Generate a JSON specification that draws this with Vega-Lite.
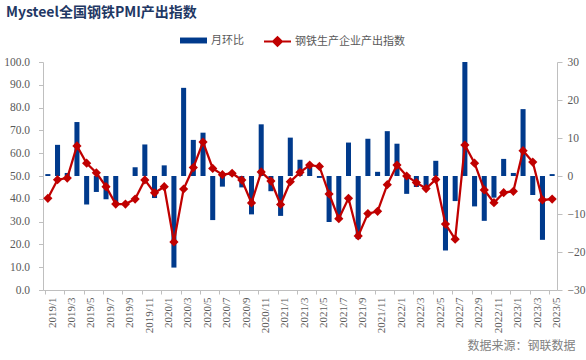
{
  "$schema": "https://vega.github.io/schema/vega-lite/v6.json",
  "width": 514,
  "height": 228,
  "autosize": {"type": "none"},
  "padding": {"left": 43, "top": 62, "right": 29, "bottom": 70},
  "background": "white",
  "config": {"view": {"stroke": null}, "font": "Noto Sans CJK SC"},
  "title": {
    "text": "Mysteel全国钢铁PMI产出指数",
    "anchor": "start",
    "frame": "group",
    "dx": -37,
    "offset": 7,
    "fontSize": 14,
    "fontWeight": "bold",
    "color": "#1F3864",
    "font": "Noto Sans CJK SC"
  },
  "data": {
    "values": [
      {"month": "2019/1", "idx": 40.2, "mom": 0.5},
      {"month": "2019/2", "idx": 48.4, "mom": 8.2},
      {"month": "2019/3", "idx": 49.1, "mom": 0.8},
      {"month": "2019/4", "idx": 63.2, "mom": 14.2},
      {"month": "2019/5", "idx": 55.6, "mom": -7.5},
      {"month": "2019/6", "idx": 51.4, "mom": -4.2},
      {"month": "2019/7", "idx": 45.3, "mom": -6.1},
      {"month": "2019/8", "idx": 37.7, "mom": -7.5},
      {"month": "2019/9", "idx": 37.7, "mom": 0.0},
      {"month": "2019/10", "idx": 39.9, "mom": 2.3},
      {"month": "2019/11", "idx": 48.3, "mom": 8.3},
      {"month": "2019/12", "idx": 42.6, "mom": -5.8},
      {"month": "2020/1", "idx": 45.3, "mom": 2.8},
      {"month": "2020/2", "idx": 21.1, "mom": -24.1},
      {"month": "2020/3", "idx": 44.3, "mom": 23.2},
      {"month": "2020/4", "idx": 53.7, "mom": 9.5},
      {"month": "2020/5", "idx": 64.9, "mom": 11.4},
      {"month": "2020/6", "idx": 53.3, "mom": -11.6},
      {"month": "2020/7", "idx": 50.6, "mom": -2.8},
      {"month": "2020/8", "idx": 51.2, "mom": 0.5},
      {"month": "2020/9", "idx": 48.2, "mom": -3.0},
      {"month": "2020/10", "idx": 38.2, "mom": -10.1},
      {"month": "2020/11", "idx": 51.8, "mom": 13.6},
      {"month": "2020/12", "idx": 47.8, "mom": -4.0},
      {"month": "2021/1", "idx": 37.5, "mom": -10.5},
      {"month": "2021/2", "idx": 47.5, "mom": 10.1},
      {"month": "2021/3", "idx": 51.6, "mom": 4.3},
      {"month": "2021/4", "idx": 54.8, "mom": 3.1},
      {"month": "2021/5", "idx": 54.2, "mom": -0.5},
      {"month": "2021/6", "idx": 42.1, "mom": -12.1},
      {"month": "2021/7", "idx": 31.3, "mom": -10.8},
      {"month": "2021/8", "idx": 40.2, "mom": 8.8},
      {"month": "2021/9", "idx": 23.7, "mom": -16.6},
      {"month": "2021/10", "idx": 33.5, "mom": 9.8},
      {"month": "2021/11", "idx": 34.5, "mom": 1.1},
      {"month": "2021/12", "idx": 46.2, "mom": 11.8},
      {"month": "2022/1", "idx": 54.8, "mom": 8.5},
      {"month": "2022/2", "idx": 50.0, "mom": -4.7},
      {"month": "2022/3", "idx": 47.1, "mom": -2.9},
      {"month": "2022/4", "idx": 44.5, "mom": -2.7},
      {"month": "2022/5", "idx": 48.5, "mom": 4.0},
      {"month": "2022/6", "idx": 28.9, "mom": -19.6},
      {"month": "2022/7", "idx": 22.3, "mom": -6.6},
      {"month": "2022/8", "idx": 63.6, "mom": 41.3},
      {"month": "2022/9", "idx": 55.6, "mom": -8.0},
      {"month": "2022/10", "idx": 43.9, "mom": -11.8},
      {"month": "2022/11", "idx": 38.3, "mom": -5.7},
      {"month": "2022/12", "idx": 42.7, "mom": 4.5},
      {"month": "2023/1", "idx": 43.3, "mom": 0.8},
      {"month": "2023/2", "idx": 61.1, "mom": 17.6},
      {"month": "2023/3", "idx": 56.1, "mom": -5.0},
      {"month": "2023/4", "idx": 39.5, "mom": -16.8},
      {"month": "2023/5", "idx": 39.9, "mom": 0.5}
    ]
  },
  "encoding": {
    "x": {
      "field": "month",
      "type": "ordinal",
      "sort": null,
      "scale": {"paddingInner": 0.48, "paddingOuter": 0.24},
      "axis": {
        "title": "数据来源：钢联数据",
        "values": ["2019/1","2019/3","2019/5","2019/7","2019/9","2019/11","2020/1","2020/3","2020/5","2020/7","2020/9","2020/11","2021/1","2021/3","2021/5","2021/7","2021/9","2021/11","2022/1","2022/3","2022/5","2022/7","2022/9","2022/11","2023/1","2023/3","2023/5"],
        "labelAngle": 270,
        "labelFont": "Liberation Serif",
        "labelFontSize": 11,
        "labelColor": "#595959",
        "domainColor": "#BFBFBF",
        "tickColor": "#BFBFBF",
        "tickSize": 4,
        "bandPosition": 0,
        "labelOffset": 4.85,
        "labelPadding": 3,
        "grid": false,
        "titleX": 532,
        "titleY": 55,
        "titleAlign": "right",
        "titleBaseline": "middle",
        "titleAngle": 0,
        "titleFontSize": 12,
        "titleFontWeight": "normal",
        "titleColor": "#7F7F7F",
        "titleFont": "Noto Sans CJK SC"
      }
    }
  },
  "layer": [
    {
      "mark": {"type": "bar", "clip": true, "color": "#003A8C"},
      "encoding": {
        "y": {
          "field": "mom",
          "type": "quantitative",
          "scale": {"domain": [-30, 30], "nice": false},
          "axis": {
            "orient": "right",
            "title": null,
            "values": [-30, -20, -10, 0, 10, 20, 30],
            "format": "d",
            "labelFont": "Liberation Serif",
            "labelFontSize": 11.5,
            "labelColor": "#595959",
            "domainColor": "#BFBFBF",
            "tickColor": "#BFBFBF",
            "tickSize": 5,
            "labelPadding": 5,
            "grid": false
          }
        },
        "color": {
          "datum": "月环比",
          "type": "nominal",
          "scale": {"range": ["#003A8C"]},
          "legend": {
            "orient": "none",
            "legendX": 137,
            "legendY": -35,
            "title": null,
            "padding": 0,
            "symbolType": "M-1,-0.22H1V0.22H-1Z",
            "symbolSize": 729,
            "symbolStrokeWidth": 0,
            "labelFont": "Noto Sans CJK SC",
            "labelFontSize": 11,
            "labelColor": "#595959",
            "labelOffset": 4
          }
        }
      }
    },
    {
      "encoding": {
        "y": {
          "field": "idx",
          "type": "quantitative",
          "scale": {"domain": [0, 100], "nice": false},
          "axis": {
            "orient": "left",
            "title": null,
            "values": [0, 10, 20, 30, 40, 50, 60, 70, 80, 90, 100],
            "format": ".1f",
            "labelFont": "Liberation Serif",
            "labelFontSize": 11.5,
            "labelColor": "#595959",
            "domainColor": "#BFBFBF",
            "tickColor": "#BFBFBF",
            "tickSize": 4.5,
            "labelPadding": 9,
            "grid": false
          }
        }
      },
      "layer": [
        {
          "mark": {"type": "line", "color": "#C00000", "strokeWidth": 2.25},
          "encoding": {
            "stroke": {
              "datum": "钢铁生产企业产出指数",
              "type": "nominal",
              "scale": {"range": ["#C00000"]},
              "legend": {
                "orient": "none",
                "legendX": 220,
                "legendY": -35,
                "title": null,
                "padding": 0,
                "symbolType": "M-1,0H1M-0.33,0L0,-0.33L0.33,0L0,0.33Z",
                "symbolSize": 729,
                "symbolStrokeWidth": 2,
                "symbolFillColor": "#C00000",
                "symbolStrokeColor": "#C00000",
                "labelFont": "Noto Sans CJK SC",
                "labelFontSize": 11,
                "labelColor": "#595959",
                "labelOffset": 3
              }
            }
          }
        },
        {
          "mark": {"type": "point", "shape": "diamond", "filled": true, "size": 85, "color": "#C00000", "opacity": 1}
        }
      ]
    }
  ],
  "resolve": {"scale": {"y": "independent"}}
}
